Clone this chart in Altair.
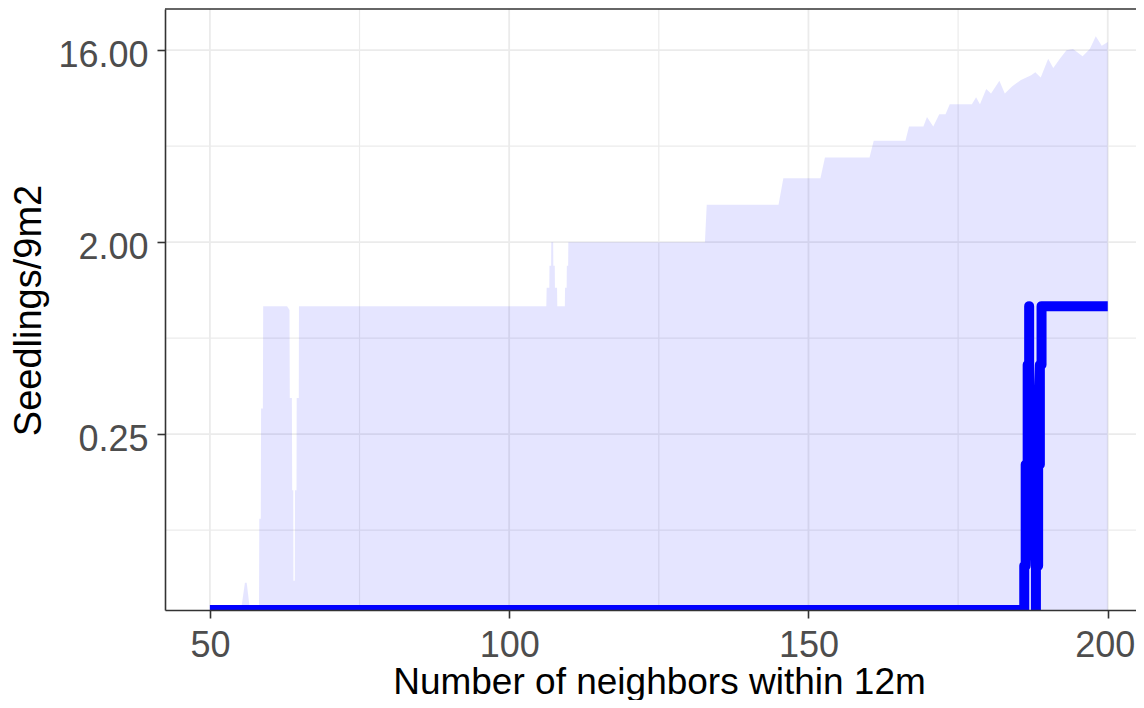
import altair as alt
import pandas as pd

# ---- data ----
X_RIBBON = [50.0, 55.2, 55.85, 56.15, 56.7, 58.2, 58.25, 58.5, 58.55, 58.85, 58.9,
            62.9, 63.3, 63.35, 63.7, 63.75, 63.93, 63.96, 64.18, 64.21, 64.47, 64.5,
            64.85, 64.88, 106.2, 106.26, 106.7, 106.73, 107.0, 107.03, 107.35, 107.38,
            107.62, 107.65, 108.0, 108.04, 109.3, 109.33, 109.6, 109.63, 109.85, 109.88,
            132.7, 133.0, 145.0, 145.8, 152.0, 152.75, 160.2, 160.9, 166.2, 166.8,
            169.2, 169.8, 170.85, 171.85, 172.9, 173.6, 177.3, 178.0, 178.65, 179.7,
            180.5, 181.9, 182.8, 184.0, 185.5, 187.2, 187.9, 188.8, 190.05, 190.9,
            192.0, 193.1, 194.2, 195.8, 197.0, 198.0, 199.0, 200.0]
UPPER = [0, 0, 0.05, 0.05, 0, 0, 0.1, 0.1, 0.33, 0.33, 1.0,
         1.0, 0.96, 0.37, 0.37, 0.136, 0.136, 0.051, 0.051, 0.136, 0.136, 0.37,
         0.37, 1.0, 1.0, 1.22, 1.22, 1.55, 1.55, 2.0, 2.0, 1.55,
         1.55, 1.22, 1.22, 1.0, 1.0, 1.22, 1.22, 1.55, 1.55, 2.0,
         2.0, 3.0, 3.0, 4.0, 4.0, 5.0, 5.0, 6.0, 6.0, 7.0,
         7.0, 7.77, 7.0, 8.0, 8.0, 8.9, 8.9, 9.6, 8.9, 10.5,
         10.0, 11.5, 10.0, 10.8, 11.6, 12.2, 12.6, 11.9, 14.6, 13.2,
         14.6, 16.0, 16.2, 15.0, 16.2, 18.6, 16.8, 17.5]
LOWER = [0] * len(X_RIBBON)

# median path, in drawing order (it doubles back between 186 and 189)
X_LINE = [50.0, 186.05, 186.05, 186.29, 186.29, 186.62, 186.62, 186.87, 186.87,
          186.87, 188.0, 188.0, 188.0, 188.37, 188.37, 188.66, 188.66, 188.94,
          188.94, 200.0]
MEDIAN = [0, 0, 0.06, 0.06, 0.18, 0.18, 0.53, 0.53, 1.0,
          0.53, 0.06, 0, 0.06, 0.06, 0.18, 0.18, 0.53, 0.53,
          1.0, 1.0]

X_TICKS = [50, 100, 150, 200]
X_MINOR = [75, 125, 175]
Y_TICKS = [0.25, 2.0, 16.0]
Y_MINOR = [0.0884, 0.7071, 5.657]

X_DOMAIN = [42.5, 204.72]
Y_DOMAIN = [0.0372, 25.0]
W, H = 971, 601
FONT = "Liberation Sans"

ribbon = pd.DataFrame({"x": X_RIBBON, "upper": UPPER, "lower": LOWER})
line = pd.DataFrame({"x": X_LINE, "median": MEDIAN, "i": list(range(len(X_LINE)))})
major_v = pd.DataFrame({"x": X_TICKS})
minor_v = pd.DataFrame({"x": X_MINOR})
major_h = pd.DataFrame({"y": Y_TICKS})
minor_h = pd.DataFrame({"y": Y_MINOR})

xs = alt.Scale(domain=X_DOMAIN, nice=False, zero=False)
ys = alt.Scale(type="log", base=2, domain=Y_DOMAIN, nice=False)
ymin = Y_DOMAIN[0]

GRID = "#EBEBEB"

x_axis = alt.Axis(values=X_TICKS, format="d", grid=False, zindex=1,
                  domainColor="#333333", domainWidth=1.6,
                  tickColor="#333333", tickWidth=1.6, tickSize=8,
                  labelColor="#4D4D4D", labelFont=FONT, labelFontSize=36,
                  labelPadding=10, labelFlush=False, labelOverlap=False,
                  labelOffset={"condition": {"test": "datum.value == 200", "value": -3},
                               "value": 0},
                  title="Number of neighbors within 12m", titleFont=FONT,
                  titleFontSize=37, titleFontWeight="normal", titleColor="#000000",
                  titleBaseline="alphabetic", titleAlign="center", titleX=494, titleY=83)
y_axis = alt.Axis(values=Y_TICKS, format=".2f", grid=False, zindex=1,
                  domainColor="#333333", domainWidth=1.6,
                  tickColor="#333333", tickWidth=1.6, tickSize=8,
                  labelColor="#4D4D4D", labelFont=FONT, labelFontSize=36,
                  labelPadding=9, labelOffset=5, labelOverlap=False,
                  title="Seedlings/9m2", titleFont=FONT, titleFontSize=38,
                  titleFontWeight="normal", titleColor="#000000", titleAngle=270,
                  titleBaseline="alphabetic", titleAlign="center", titleX=-125, titleY=301)

X = alt.X("x:Q", scale=xs, axis=x_axis, title="Number of neighbors within 12m")

vmaj = alt.Chart(major_v).mark_rule(color=GRID, strokeWidth=1.8).encode(x=X)
vmin = alt.Chart(minor_v).mark_rule(color=GRID, strokeWidth=1.2).encode(x=X)
hmaj = alt.Chart(major_h).mark_rule(color=GRID, strokeWidth=1.8).encode(
    y=alt.Y("y:Q", scale=ys, axis=y_axis, title="Seedlings/9m2"))
hmin = alt.Chart(minor_h).mark_rule(color=GRID, strokeWidth=1.2).encode(
    y=alt.Y("y:Q", scale=ys, axis=y_axis, title="Seedlings/9m2"))

area = alt.Chart(ribbon).transform_calculate(
    y=f"max(datum.upper, {ymin})", lo=f"max(datum.lower, {ymin})"
).mark_area(fill="#0000FF", fillOpacity=0.1, strokeWidth=0).encode(
    x=X,
    y=alt.Y("y:Q", scale=ys, axis=y_axis, title="Seedlings/9m2"),
    y2="lo:Q",
)

med = alt.Chart(line).transform_calculate(
    y=f"max(datum.median, {ymin})"
).mark_line(color="#0000FF", strokeWidth=10, strokeJoin="round", strokeCap="butt",
            clip=True).encode(
    x=X,
    y=alt.Y("y:Q", scale=ys, axis=y_axis, title="Seedlings/9m2"),
    order=alt.Order("i:Q"),
)

top_border = alt.Chart(pd.DataFrame({"a": [0]})).mark_rule(
    color="#333333", strokeWidth=1.6).encode(
    x=alt.value(0), x2=alt.value(W), y=alt.value(0))

chart = alt.layer(vmin, hmin, vmaj, hmaj, area, med, top_border).properties(
    width=W, height=H,
    padding={"left": 157, "top": 1, "right": 0, "bottom": 90},
    autosize=alt.AutoSizeParams(type="none"),
).configure_view(stroke=None)

chart.save("out.html", embed_options={"renderer": "svg", "actions": False})
